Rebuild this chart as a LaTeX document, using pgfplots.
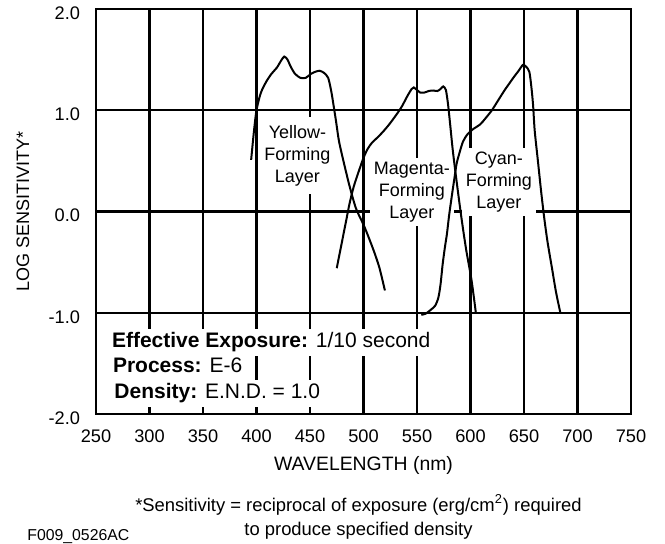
\documentclass[border=0pt]{standalone}
\usepackage{fontspec}
\setmainfont{Liberation Sans}
\usepackage{pgfplots}
\pgfplotsset{compat=1.18}
\tikzset{
 lbl/.style={font=\fontsize{9}{11}\selectfont, fill=white, inner sep=2pt, align=center},
 eff/.style={font=\fontsize{10.5}{12}\selectfont, anchor=base west, fill=white, inner xsep=2pt, inner ysep=1.8pt, text height=0.75em, text depth=0.25em},
}
\begin{document}
\begin{tikzpicture}
\path[use as bounding box] (-48pt,-65pt) rectangle (284.5pt,207pt);
\begin{axis}[
 at={(0,0)}, anchor=south west, scale only axis,
 width=267.5pt, height=202.5pt,
 xmin=250, xmax=750, ymin=-2, ymax=2,
 xtick={250,300,350,400,450,500,550,600,650,700,750},
 ytick={-2,-1,0,1,2},
 xticklabels={250,300,350,400,450,500,550,600,650,700,750},
 yticklabels={-2.0,-1.0,0.0,1.0,2.0},
 major tick length=0pt,
 grid=major,
 grid style={line width=1.15pt, black},
 axis line style={line width=1.15pt},
 tick label style={font=\fontsize{9.1}{11}\selectfont},
 xticklabel style={yshift=-4.5pt},
 yticklabel style={xshift=-4.5pt, yshift=-2pt},
 xlabel={WAVELENGTH (nm)}, ylabel={LOG SENSITIVITY*},
 every axis x label/.style={at={(axis description cs:0.5,0)}, yshift=-25.5pt, anchor=center, font=\fontsize{9.7}{11}\selectfont},
 every axis y label/.style={at={(axis description cs:0,0.5)}, xshift=-36.5pt, rotate=90, anchor=center, font=\fontsize{9}{11}\selectfont},
 clip=false,
]
\node[lbl, inner ysep=4pt] at (axis cs:438.3,0.55) {Yellow-\\Forming\\Layer};
\node[lbl] at (axis cs:545.3,0.195) {Magenta-\\Forming\\Layer};
\node[lbl] at (axis cs:626.6,0.293) {Cyan-\\Forming\\Layer};
\node[eff] at (axis cs:260.9,-1.341) {\textbf{Effective Exposure:} 1/10 second};
\node[eff] at (axis cs:261.8,-1.588) {\textbf{Process:} E-6};
\node[eff] at (axis cs:263.1,-1.845) {\textbf{Density:} E.N.D. = 1.0};

% Yellow-forming layer
\addplot[black, line width=1pt, smooth, tension=0.45] coordinates {
(395,0.51) (397.5,0.78) (400,1.0) (404,1.17) (409,1.28) (414,1.36) (419,1.42) (423,1.49) (426,1.53) (429,1.5) (432,1.43) (436,1.36) (441,1.32) (446,1.32) (451,1.36) (455,1.38) (459,1.39) (463,1.37) (467,1.32) (470,1.18) (472,1.05) (474.5,0.88) (477,0.7) (481,0.51) (487,0.25) (493,0.03) (500,-0.13) (505,-0.26) (510,-0.4) (515,-0.56) (520,-0.78)
};
% Magenta-forming layer
\addplot[black, line width=1pt, smooth, tension=0.45] coordinates {
(475,-0.56) (478,-0.40) (481,-0.24) (484,-0.08) (487,0.08) (491,0.25) (496,0.41) (500,0.53) (504,0.62) (508,0.68) (513,0.73) (518,0.785) (524,0.86) (531,0.96) (536,1.04) (541,1.14) (545,1.21) (547,1.225) (550,1.2) (553,1.175) (557,1.175) (561,1.19) (565,1.195) (569,1.19) (572,1.21) (574.5,1.235) (577,1.2) (579,1.06) (581,0.86) (583.5,0.6) (587,0.3) (591.5,-0.06) (596,-0.38) (601,-0.68) (605,-1.0)
};
% Cyan-forming layer
\addplot[black, line width=1pt, smooth, tension=0.45] coordinates {
(554,-1.02) (558,-1.01) (563,-0.97) (567,-0.93) (570,-0.85) (572,-0.72) (574,-0.52) (576,-0.36) (578,-0.22) (580,-0.04) (582.5,0.15) (585,0.33) (587,0.47) (590,0.59) (593,0.69) (597,0.76) (602,0.81) (609,0.86) (614,0.92) (620,1.0) (626,1.1) (632,1.2) (636,1.26) (640,1.32) (645,1.39) (649,1.447) (652,1.43) (655,1.38) (657,1.22) (658.5,1.05) (660,0.8) (663,0.5) (666,0.2) (669,-0.07) (672,-0.3) (676,-0.55) (680,-0.8) (684,-1.0)
};
\end{axis}
\node[font=\fontsize{9.2}{12}\selectfont, align=center] at (131.25pt,-51.5pt) {*Sensitivity = reciprocal of exposure (erg/cm\textsuperscript{2}) required\\to produce specified density};
\node[anchor=west, font=\fontsize{7.9}{10}\selectfont, inner sep=0pt] at (-34.5pt,-61.5pt) {F009\_0526AC};
\end{tikzpicture}
\end{document}
